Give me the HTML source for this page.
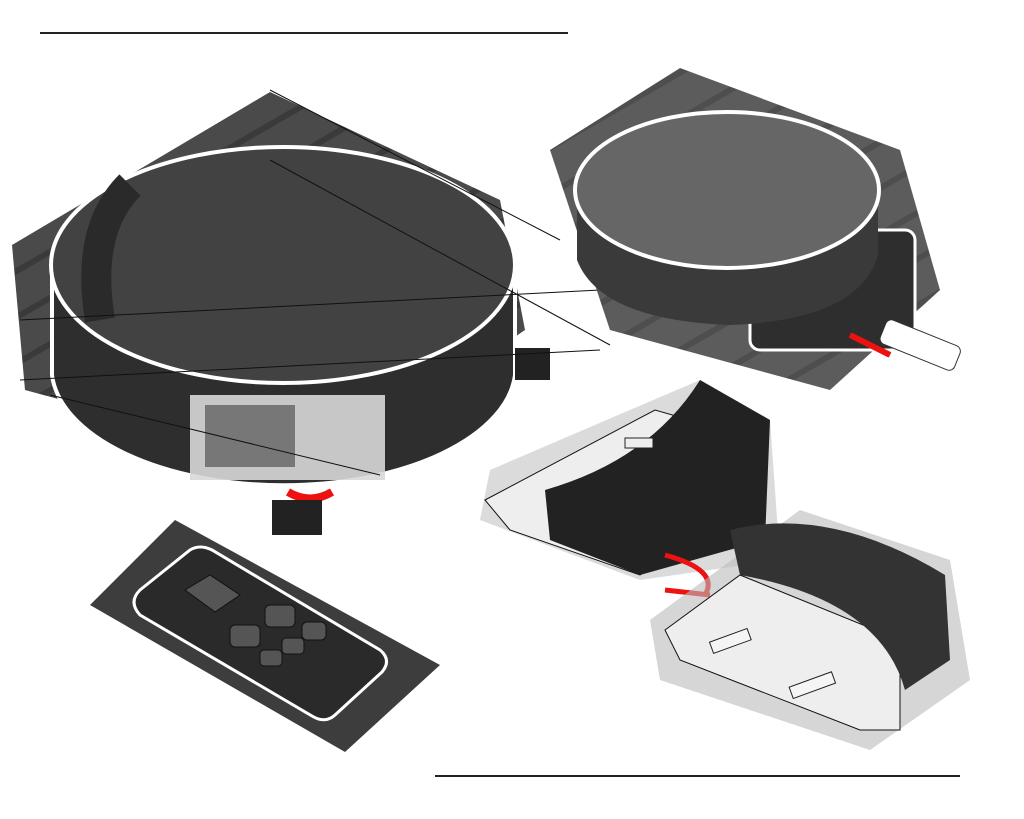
<!DOCTYPE html>
<html><head><meta charset="utf-8"><style>html,body{margin:0;padding:0;background:#fff}svg{display:block}</style></head>
<body>
<svg width="1024" height="819" viewBox="0 0 1024 819" xmlns="http://www.w3.org/2000/svg">
<defs>
<pattern id="st" width="40" height="40" patternUnits="userSpaceOnUse" patternTransform="rotate(-30)">
<rect width="40" height="40" fill="#4a4a4a"/><rect width="40" height="6" fill="#3a3a3a"/></pattern>
</defs>
<line x1="40" y1="33" x2="568" y2="33" stroke="#222" stroke-width="2"/>
<line x1="435" y1="776" x2="960" y2="776" stroke="#222" stroke-width="2"/>

<!-- big robot -->
<polygon points="12,245 270,92 500,200 525,330 320,470 25,390" fill="url(#st)"/>
<path d="M52,265 L52,375 A232,118 0 0 0 515,375 L515,265 Z" fill="#2e2e2e"/>
<path d="M52,265 L52,375 A232,118 0 0 0 515,375 L515,265 Z" fill="none" stroke="#fff" stroke-width="4"/>
<ellipse cx="283" cy="265" rx="232" ry="118" fill="#424242" stroke="#fff" stroke-width="4"/>
<path d="M130,185 Q85,230 100,320" stroke="#2a2a2a" stroke-width="30" fill="none"/>
<rect x="190" y="395" width="195" height="85" fill="#d8d8d8" opacity="0.9"/>
<rect x="205" y="405" width="90" height="62" fill="#555" opacity="0.7"/>
<path d="M288,492 Q310,505 332,492" stroke="#e11" stroke-width="8" fill="none"/>
<rect x="272" y="500" width="50" height="35" fill="#222"/>
<rect x="515" y="348" width="35" height="32" fill="#222"/>
<g stroke="#111" stroke-width="1" fill="none">
<line x1="20" y1="320" x2="600" y2="290"/><line x1="20" y1="380" x2="600" y2="350"/>
<line x1="270" y1="90" x2="560" y2="240"/><line x1="270" y1="160" x2="610" y2="345"/>
<line x1="50" y1="395" x2="380" y2="475"/>
</g>

<!-- top-right robot -->
<polygon points="550,150 680,68 900,150 940,290 830,390 610,330" fill="url(#st)" opacity="0.9"/>
<rect x="750" y="230" width="165" height="120" rx="10" fill="#2e2e2e" stroke="#fff" stroke-width="3"/>
<path d="M577,190 L577,260 Q600,320 730,325 Q860,320 878,255 L878,190 Z" fill="#3a3a3a"/>
<ellipse cx="727" cy="190" rx="152" ry="78" fill="#666" stroke="#fff" stroke-width="4"/>
<line x1="850" y1="335" x2="890" y2="355" stroke="#e11" stroke-width="6"/>
<g transform="translate(888,318) rotate(22)"><rect width="80" height="26" rx="6" fill="#fff" stroke="#333"/></g>

<!-- middle dock -->
<polygon points="490,470 700,380 770,420 780,560 640,580 480,520" fill="#ccc" opacity="0.7"/>
<polygon points="485,500 655,410 760,440 760,500 640,575 510,530" fill="#eee" stroke="#111"/>
<path d="M545,490 Q650,460 700,380 L770,420 L765,540 L640,575 L550,540 Z" fill="#222"/>
<rect x="625" y="438" width="28" height="10" fill="#eee" stroke="#222"/>
<path d="M665,555 Q720,570 705,595 M665,590 L710,595" stroke="#e11" stroke-width="5" fill="none"/>

<!-- bottom-left remote -->
<polygon points="90,605 175,520 440,665 345,752" fill="#333" opacity="0.95"/>
<path d="M140,590 L190,550 Q200,544 212,550 L380,650 Q392,660 382,672 L335,715 Q325,724 312,716 L140,615 Q128,602 140,590 Z" fill="#2a2a2a" stroke="#fff" stroke-width="3"/>
<polygon points="185,590 210,575 240,595 215,612" fill="#555" stroke="#111"/>
<rect x="265" y="605" width="30" height="22" rx="5" fill="#555" stroke="#111"/>
<rect x="302" y="622" width="24" height="18" rx="5" fill="#555" stroke="#111"/>
<rect x="230" y="625" width="30" height="22" rx="5" fill="#555" stroke="#111"/>
<rect x="282" y="638" width="22" height="16" rx="4" fill="#555" stroke="#111"/>
<rect x="260" y="650" width="22" height="16" rx="4" fill="#555" stroke="#111"/>

<!-- bottom-right dock -->
<polygon points="650,620 800,510 950,560 970,680 870,750 660,680" fill="#bbb" opacity="0.6"/>
<polygon points="665,630 740,575 900,640 900,730 860,730 680,660" fill="#eee" stroke="#111"/>
<path d="M730,530 Q830,505 945,575 L950,660 L905,690 Q880,600 740,575 Z" fill="#333"/>
<rect x="710" y="635" width="40" height="12" fill="#f5f5f5" stroke="#222" transform="rotate(-20 730 640)"/>
<rect x="790" y="680" width="45" height="12" fill="#f5f5f5" stroke="#222" transform="rotate(-20 810 686)"/>
</svg>
</body></html>
